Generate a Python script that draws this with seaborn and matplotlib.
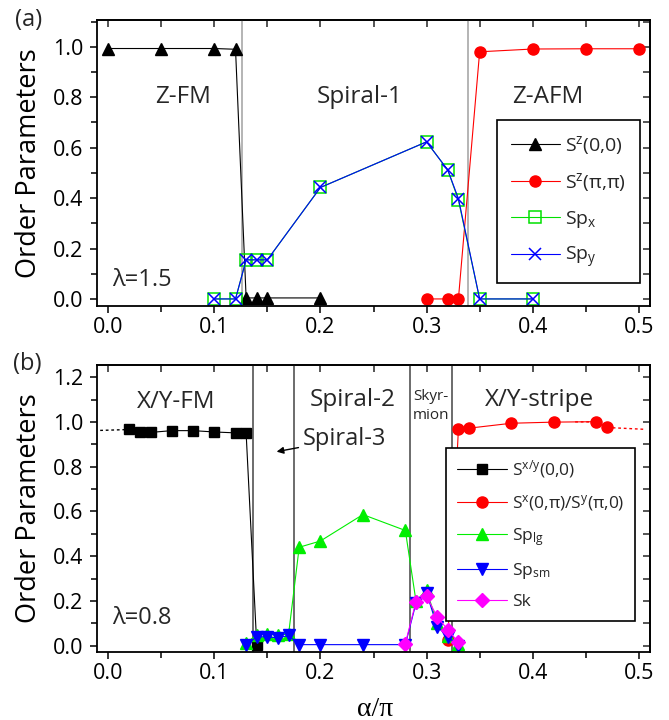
import numpy as np
import matplotlib.pyplot as plt
import seaborn as sns
from matplotlib.ticker import MultipleLocator, FormatStrFormatter

# ---- panel (a), lambda = 1.5 ----
a_sz00_x = [0.0, 0.05, 0.1, 0.12, 0.13, 0.14, 0.15, 0.2]
a_sz00_y = [0.993, 0.993, 0.993, 0.99, 0.004, 0.004, 0.004, 0.004]
a_szpp_x = [0.3, 0.32, 0.33, 0.35, 0.4, 0.45, 0.5]
a_szpp_y = [0.0, 0.0, 0.0, 0.98, 0.991, 0.992, 0.992]
a_sp_x = [0.1, 0.12, 0.13, 0.14, 0.15, 0.2, 0.3, 0.32, 0.33, 0.35, 0.4]
a_spx_y = [0.0, 0.0, 0.155, 0.155, 0.155, 0.442, 0.623, 0.511, 0.392, 0.0, 0.0]
a_spy_y = [0.0, 0.0, 0.155, 0.155, 0.155, 0.442, 0.623, 0.511, 0.398, 0.0, 0.0]
a_borders = [0.1263, 0.339]

# ---- panel (b), lambda = 0.8 ----
b_sxy_x = [0.02, 0.03, 0.04, 0.06, 0.08, 0.10, 0.12, 0.13, 0.14]
b_sxy_y = [0.968, 0.953, 0.953, 0.961, 0.961, 0.955, 0.951, 0.949, 0.005]
b_sxy_ext_x = [-0.0075, 0.02]
b_sxy_ext_y = [0.962, 0.966]
b_stripe_x = [0.32, 0.33, 0.34, 0.38, 0.42, 0.46, 0.47]
b_stripe_y = [0.027, 0.967, 0.972, 0.994, 0.999, 1.001, 0.975]
b_stripe_ext_x = [0.44, 0.46, 0.47, 0.505]
b_stripe_ext_y = [1.0, 1.0, 0.975, 0.967]
b_sp_x = [0.13, 0.14, 0.15, 0.16, 0.17, 0.18, 0.20, 0.24, 0.28, 0.29, 0.30, 0.31, 0.32, 0.33]
b_splg_y = [0.012, 0.05, 0.052, 0.048, 0.052, 0.44, 0.468, 0.586, 0.515, 0.2, 0.248, 0.1, 0.045, 0.01]
b_spsm_y = [0.005, 0.04, 0.04, 0.035, 0.046, 0.005, 0.005, 0.005, 0.005, 0.19, 0.235, 0.086, 0.04, 0.0]
b_sk_x = [0.28, 0.29, 0.30, 0.31, 0.32, 0.33]
b_sk_y = [0.01, 0.197, 0.222, 0.128, 0.072, 0.015]
b_borders = [0.1367, 0.1755, 0.2847, 0.3243]

sns.set_theme(style="ticks")
plt.rcParams['font.family'] = ['Open Sans', 'DejaVu Sans']
plt.rcParams['mathtext.fontset'] = 'custom'
plt.rcParams['mathtext.rm'] = 'Open Sans'
plt.rcParams['mathtext.default'] = 'regular'

fig = plt.figure(figsize=(6.69, 7.2), dpi=100)
axa = fig.add_axes([0.145, 0.575, 0.8266, 0.3972])
axb = fig.add_axes([0.145, 0.0944, 0.8266, 0.3986])


def line(ax, x, y, color, marker, ms, label, open_face=False, mew=1.0):
    sns.lineplot(x=x, y=y, ax=ax, color=color, marker=marker, markersize=ms,
                 linewidth=0.8, sort=False, estimator=None, errorbar=None,
                 markeredgecolor=color, markeredgewidth=mew,
                 markerfacecolor='none' if open_face else color, label=label)


def style_axes(ax, ymax):
    ax.set_xlim(-0.0105, 0.5105)
    ax.set_ylim(-0.028, ymax)
    ax.xaxis.set_major_locator(MultipleLocator(0.1))
    ax.xaxis.set_minor_locator(MultipleLocator(0.05))
    ax.yaxis.set_major_locator(MultipleLocator(0.2))
    ax.yaxis.set_minor_locator(MultipleLocator(0.1))
    ax.xaxis.set_major_formatter(FormatStrFormatter('%.1f'))
    ax.yaxis.set_major_formatter(FormatStrFormatter('%.1f'))
    ax.tick_params(which='both', direction='out', top=False, right=False,
                   width=1.1, color='black', labelsize=15.5, labelcolor='black')
    ax.tick_params(which='major', length=5, pad=3)
    ax.tick_params(which='minor', length=4)
    ax.tick_params(axis='y', which='major', pad=5)
    for sp in ax.spines.values():
        sp.set_linewidth(1.3)
        sp.set_color('black')
    top = ax.secondary_xaxis('top')
    top.xaxis.set_major_locator(MultipleLocator(0.05))
    top.tick_params(which='both', direction='in', length=5, width=1.1, labeltop=False)
    top.spines['top'].set_linewidth(1.3)
    right = ax.secondary_yaxis('right')
    right.yaxis.set_major_locator(MultipleLocator(0.1))
    right.tick_params(which='both', direction='in', length=5, width=1.1, labelright=False)
    right.spines['right'].set_linewidth(1.3)
    ax.set_ylabel('Order Parameters', fontsize=19.5, color='black')
    ax.yaxis.set_label_coords(-0.098, 0.5)
    ax.set_xlabel('')


# ---------------- panel (a) ----------------
for b in a_borders:
    axa.axvline(b, color='#a8a8a8', lw=1.2, zorder=1)
line(axa, a_sz00_x, a_sz00_y, 'black', '^', 8, 'S$^{z}$(0,0)')
line(axa, a_szpp_x, a_szpp_y, 'red', 'o', 8, 'S$^{z}$(π,π)')
line(axa, a_sp_x, a_spx_y, '#00e000', 's', 9, 'Sp$_{x}$', open_face=True, mew=1.1)
line(axa, a_sp_x, a_spy_y, 'blue', 'x', 9, 'Sp$_{y}$', mew=1.1)
style_axes(axa, 1.106)

axa.text(0.0705, 0.80, 'Z-FM', fontsize=17.5, ha='center', va='center')
axa.text(0.237, 0.80, 'Spiral-1', fontsize=17.5, ha='center', va='center')
axa.text(0.414, 0.80, 'Z-AFM', fontsize=17.5, ha='center', va='center')
axa.text(0.032, 0.075, 'λ=1.5', fontsize=17, ha='center', va='center')
fig.text(0.042, 0.972, '(a)', fontsize=17, ha='center', va='center')

lg = axa.legend(loc='upper right', bbox_to_anchor=(0.982, 0.650), fontsize=14,
                frameon=True, fancybox=False, framealpha=1, edgecolor='black',
                handlelength=2.5, handletextpad=0.3, labelspacing=0.75,
                borderaxespad=0, borderpad=0.7)
lg.get_frame().set_linewidth(1.2)

# ---------------- panel (b) ----------------
for b in b_borders:
    axb.axvline(b, color='#606060', lw=1.3, zorder=1)
line(axb, b_sxy_x, b_sxy_y, 'black', 's', 7, 'S$^{x/y}$(0,0)')
line(axb, b_stripe_x, b_stripe_y, 'red', 'o', 8, 'S$^{x}$(0,π)/S$^{y}$(π,0)')
line(axb, b_sp_x, b_splg_y, '#00ee00', '^', 8.5, 'Sp$_{lg}$')
line(axb, b_sp_x, b_spsm_y, 'blue', 'v', 8.5, 'Sp$_{sm}$')
line(axb, b_sk_x, b_sk_y, 'magenta', 'D', 7.5, 'Sk')
sns.lineplot(x=b_sxy_ext_x, y=b_sxy_ext_y, ax=axb, color='black', lw=1.0,
             linestyle=(0, (2, 2)), sort=False, estimator=None, errorbar=None)
sns.lineplot(x=b_stripe_ext_x, y=b_stripe_ext_y, ax=axb, color='red', lw=1.0,
             linestyle=(0, (2, 2)), sort=False, estimator=None, errorbar=None)
style_axes(axb, 1.254)
axb.set_xlabel('α/π', fontsize=20, family=['Liberation Serif'], color='black')
axb.xaxis.set_label_coords(0.503, -0.155)

axb.text(0.064, 1.09, 'X/Y-FM', fontsize=17.5, ha='center', va='center')
axb.text(0.230, 1.098, 'Spiral-2', fontsize=17.5, ha='center', va='center')
axb.text(0.3045, 1.072, 'Skyr-\nmion', fontsize=11, ha='center', va='center',
         linespacing=1.35)
axb.text(0.406, 1.10, 'X/Y-stripe', fontsize=17.5, ha='center', va='center')
axb.annotate('Spiral-3', xy=(0.1587, 0.867), xytext=(0.1837, 0.924),
             fontsize=17, ha='left', va='center',
             arrowprops=dict(arrowstyle='-|>', color='black', lw=1.0,
                             shrinkA=1, shrinkB=0, mutation_scale=10))
axb.text(0.032, 0.124, 'λ=0.8', fontsize=17, ha='center', va='center')
fig.text(0.040, 0.495, '(b)', fontsize=17, ha='center', va='center')

handles, labels = axb.get_legend_handles_labels()
lg = axb.legend(handles[:5], labels[:5], loc='upper right', bbox_to_anchor=(0.973, 0.711),
                fontsize=12.5, frameon=True, fancybox=False, framealpha=1,
                edgecolor='black', handlelength=2.9, handletextpad=0.3,
                labelspacing=0.75, borderaxespad=0, borderpad=0.6)
lg.get_frame().set_linewidth(1.2)

fig.savefig('out.png', dpi=100)
